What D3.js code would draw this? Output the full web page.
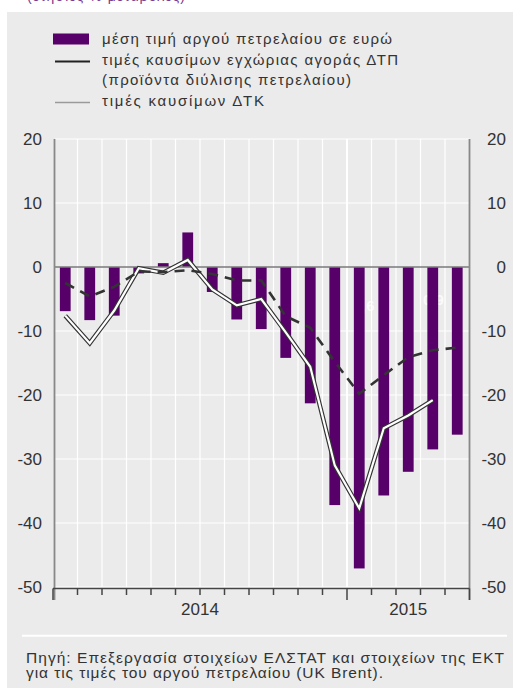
<!DOCTYPE html>
<html>
<head>
<meta charset="utf-8">
<script src="https://cdn.jsdelivr.net/npm/d3@7"></script>
<style>
  html, body { margin: 0; padding: 0; background: #fff; }
  svg { display: block; }
</style>
</head>
<body>
<svg id="chart" width="513" height="688"></svg>
<script>
// months Jan 2014 .. May 2015
const months = ['2014-01','2014-02','2014-03','2014-04','2014-05','2014-06','2014-07','2014-08',
  '2014-09','2014-10','2014-11','2014-12','2015-01','2015-02','2015-03','2015-04','2015-05'];

// μέση τιμή αργού πετρελαίου σε ευρώ (bars)
const oilEur = [-6.9, -8.3, -7.6, -1.0, 0.6, 5.4, -3.9, -8.2, -9.7, -14.2, -21.3, -37.2, -47.1, -35.7, -32.0, -28.5, -26.2];
// τιμές καυσίμων εγχώριας αγοράς ΔΤΠ (dashed)
const ppiFuel = [-2.5, -4.6, -3.1, -0.7, -0.8, -0.5, -1.1, -2.1, -2.1, -7.7, -9.5, -14.8, -19.8, -16.9, -14.1, -13.0, -12.6];
// τιμές καυσίμων ΔΤΚ (white line), no May 2015 value
const cpiFuel = [-7.6, -11.9, -6.8, -0.2, -0.9, 1.1, -3.5, -6.0, -5.0, -10.2, -15.6, -31.0, -37.7, -25.2, -23.2, -20.8, null];

const yTicks = [20, 10, 0, -10, -20, -30, -40, -50];
const years = [{ label: '2014', from: '2014-01', to: '2014-12' }, { label: '2015', from: '2015-01', to: '2015-05' }];

const legendItems = [
  { type: 'bar', lines: ['μέση τιμή αργού πετρελαίου σε ευρώ'] },
  { type: 'ppi', lines: ['τιμές καυσίμων εγχώριας αγοράς ΔΤΠ', '(προϊόντα διύλισης πετρελαίου)'] },
  { type: 'cpi', lines: ['τιμές καυσίμων ΔΤΚ'] }
];

const sourceLines = [
  'Πηγή: Επεξεργασία στοιχείων ΕΛΣΤΑΤ και στοιχείων της ΕΚΤ',
  'για τις τιμές του αργού πετρελαίου (UK Brent).'
];

// the reference is set in a wide serif; stretch the sans lines to the same extent
const legendTextWidths = [290, 296, 249, 162];
const sourceTextWidths = [478, 357];

const PURPLE = '#58006a';
const svg = d3.select('#chart').attr('font-family', "'Liberation Sans', Arial, sans-serif");

// panel background + cut-off heading above it
svg.append('text').attr('x', 27).attr('y', 1)
  .attr('font-size', 14).attr('fill', '#7b3a8c')
  .attr('textLength', 158).attr('lengthAdjust', 'spacing')
  .text('(ετήσιες % μεταβολές)');
svg.append('rect').attr('x', 7).attr('y', 12).attr('width', 506).attr('height', 676).attr('fill', '#ebebeb');

const x = d3.scaleBand().domain(months).range([53, 469.5]).paddingInner(0.56).paddingOuter(0.28);
const step = x.step();
const y = d3.scaleLinear().domain([-50, 20]).range([587, 139]);
const cx = d => x(d) + x.bandwidth() / 2;
// month boundaries
const bounds = d3.range(months.length + 1).map(i => 53 + i * step);

// grid
const grid = svg.append('g');
grid.selectAll('.hg').data(yTicks.filter(t => t !== 0)).join('line')
  .attr('x1', 55).attr('x2', 469.5).attr('y1', d => y(d)).attr('y2', d => y(d))
  .attr('stroke', '#fff').attr('stroke-width', 1.2);
grid.selectAll('.vg').data(bounds.slice(1, -1)).join('line')
  .attr('x1', d => d).attr('x2', d => d).attr('y1', y(20)).attr('y2', y(-50))
  .attr('stroke', '#fff').attr('stroke-width', (d, i) => i === 11 ? 2 : 1.2);

// faint leftover labels sitting behind the bars
svg.append('text').attr('x', 362).attr('y', 311).attr('font-size', 15).attr('font-weight', 'bold')
  .attr('fill', '#fff').attr('opacity', 0.75).text(',6');
svg.append('text').attr('x', 423).attr('y', 305).attr('font-size', 15).attr('font-weight', 'bold')
  .attr('fill', '#fff').attr('opacity', 0.75).text('0,9');

// bars
svg.append('g').selectAll('rect').data(oilEur).join('rect')
  .attr('x', (d, i) => x(months[i]))
  .attr('width', x.bandwidth())
  .attr('y', d => y(Math.max(0, d)))
  .attr('height', d => Math.abs(y(d) - y(0)))
  .attr('fill', PURPLE);

// zero line
svg.append('line').attr('x1', 55).attr('x2', 470).attr('y1', y(0)).attr('y2', y(0))
  .attr('stroke', '#7a7a7a').attr('stroke-width', 1.5);

// ΔΤΚ line: dark outline with white core
const line = d3.line().defined(d => d.v != null).x(d => cx(d.m)).y(d => y(d.v));
const cpiPts = months.map((m, i) => ({ m, v: cpiFuel[i] }));
svg.append('path').datum(cpiPts).attr('d', line).attr('fill', 'none')
  .attr('stroke', '#333').attr('stroke-width', 4.5).attr('stroke-linejoin', 'miter');
svg.append('path').datum(cpiPts).attr('d', line).attr('fill', 'none')
  .attr('stroke', '#fff').attr('stroke-width', 2.2).attr('stroke-linejoin', 'miter');

// ΔΤΠ dashed line
const ppiPts = months.map((m, i) => ({ m, v: ppiFuel[i] }));
svg.append('path').datum(ppiPts).attr('d', line).attr('fill', 'none')
  .attr('stroke', '#333').attr('stroke-width', 2.6).attr('stroke-dasharray', '10,7');

// left / right axes
[54.5, 469.5].forEach(ax => {
  svg.append('line').attr('x1', ax).attr('x2', ax).attr('y1', y(20)).attr('y2', 600)
    .attr('stroke', '#888').attr('stroke-width', 1.8);
});
svg.append('g').selectAll('text').data(yTicks).join('text')
  .attr('x', 42).attr('y', d => y(d)).attr('dy', '0.35em')
  .attr('text-anchor', 'end').attr('font-size', 17).attr('fill', '#333')
  .text(d => d);
svg.append('g').selectAll('text').data(yTicks).join('text')
  .attr('x', 506).attr('y', d => y(d)).attr('dy', '0.35em')
  .attr('text-anchor', 'end').attr('font-size', 17).attr('fill', '#333')
  .text(d => d);

// bottom axis with month ticks
const xa = svg.append('g');
xa.append('line').attr('x1', 53).attr('x2', 469.5).attr('y1', 588.5).attr('y2', 588.5)
  .attr('stroke', '#444').attr('stroke-width', 1.5);
xa.selectAll('.tk').data(bounds).join('line')
  .attr('x1', d => d).attr('x2', d => d).attr('y1', 588.5)
  .attr('y2', (d, i) => (i === 0 || i === 12 || i === months.length) ? 600 : 595)
  .attr('stroke', '#444').attr('stroke-width', 1.5);
xa.selectAll('.yr').data(years).join('text')
  .attr('x', d => (x(d.from) + x(d.to) + x.bandwidth()) / 2)
  .attr('y', 615).attr('text-anchor', 'middle').attr('font-size', 17).attr('fill', '#333')
  .text(d => d.label);

// legend
const lg = svg.append('g');
let ly = 44, li = 0;
legendItems.forEach(item => {
  if (item.type === 'bar') {
    lg.append('rect').attr('x', 53).attr('y', ly - 10.5).attr('width', 36).attr('height', 11).attr('fill', PURPLE);
  } else {
    lg.append('line').attr('x1', 55).attr('x2', 90).attr('y1', ly - 3.5).attr('y2', ly - 3.5)
      .attr('stroke', item.type === 'ppi' ? '#222' : '#9a9a9a')
      .attr('stroke-width', item.type === 'ppi' ? 2 : 1.3);
  }
  item.lines.forEach((t, j) => {
    lg.append('text').attr('x', 102).attr('y', ly + j * 20)
      .attr('font-size', 15).attr('fill', '#333')
      .attr('textLength', legendTextWidths[li++]).attr('lengthAdjust', 'spacing')
      .text(t);
  });
  ly += item.lines.length * 20 + 1;
});

// source note
svg.append('line').attr('x1', 22).attr('x2', 507).attr('y1', 635.7).attr('y2', 635.7)
  .attr('stroke', '#fff').attr('stroke-width', 2);
svg.append('g').selectAll('text').data(sourceLines).join('text')
  .attr('x', 26).attr('y', (d, i) => 662.5 + i * 15.8)
  .attr('font-size', 15.5).attr('fill', '#333')
  .attr('textLength', (d, i) => sourceTextWidths[i]).attr('lengthAdjust', 'spacing')
  .text(d => d);
</script>
</body>
</html>
